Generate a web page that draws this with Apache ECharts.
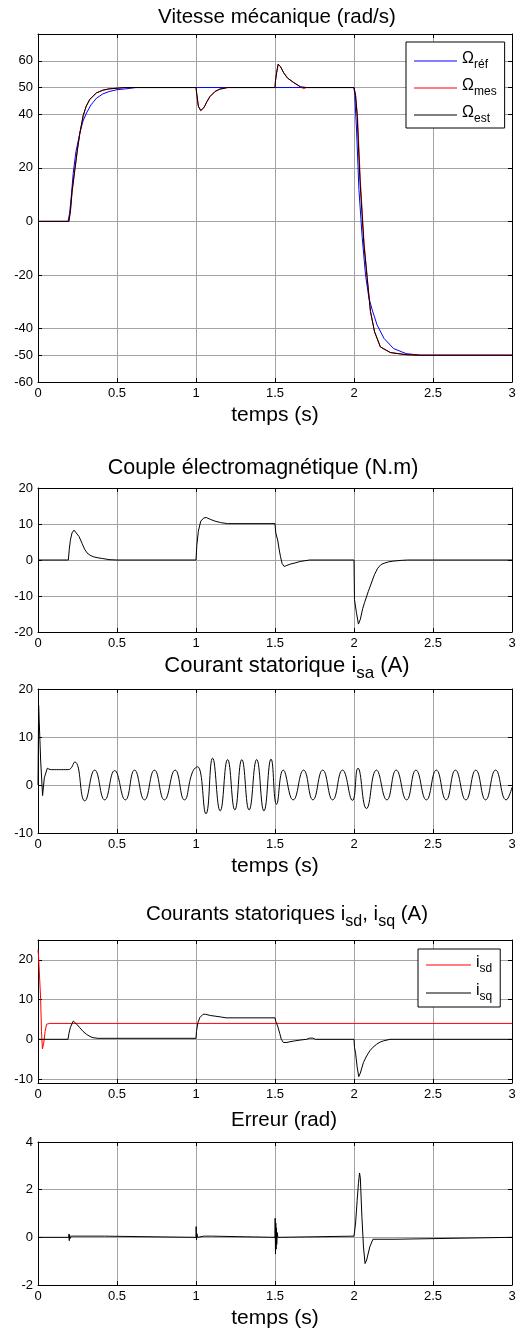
<!DOCTYPE html>
<html>
<head>
<meta charset="utf-8">
<script src="https://cdn.jsdelivr.net/npm/echarts@6/dist/echarts.min.js"></script>
<style>
html, body { margin: 0; padding: 0; background: #fff; }
#main { width: 528px; height: 1333px; }
</style>
</head>
<body>
<div id="main"></div>
<script>
var myChart = echarts.init(document.getElementById('main'));

// ticks
var timeTicks = [0, 0.5, 1, 1.5, 2, 2.5, 3];
var speedTicks = [-60, -50, -40, -20, 0, 20, 40, 50, 60];
var torqueTicks = [-20, -10, 0, 10, 20];
var isaTicks = [-10, 0, 10, 20];
var isdqTicks = [-10, 0, 10, 20];
var errTicks = [-2, 0, 2, 4];

// vitesse mécanique (rad/s)
var omegaRef = [[0, 0], [0.19, 0], [0.2, 3], [0.21, 9], [0.223, 18], [0.24, 26], [0.265, 33], [0.285, 37.5],
    [0.307, 40.5], [0.335, 43.5], [0.37, 46], [0.41, 47.6], [0.45, 48.5], [0.5, 49.2], [0.57, 49.6], [0.62, 50],
    [2.0, 50], [2.005, 47], [2.017, 33], [2.031, 12], [2.052, -6], [2.073, -20], [2.094, -28.5], [2.115, -33],
    [2.146, -38.7], [2.19, -43.7], [2.25, -47.5], [2.33, -49.4], [2.42, -50], [3, -50]];
var omegaMes = [[0, 0], [0.196, 0], [0.206, 4], [0.216, 11], [0.233, 19], [0.25, 27], [0.265, 33], [0.286, 39.5],
    [0.305, 43], [0.328, 45.6], [0.37, 48], [0.41, 49], [0.45, 49.5], [0.55, 50], [1.0, 50], [1.005, 47.5],
    [1.015, 43], [1.03, 41.4], [1.05, 42.5], [1.07, 44.8], [1.088, 46.6], [1.12, 48.5], [1.15, 49.4], [1.2, 50],
    [1.5, 50], [1.503, 52.5], [1.51, 55.5], [1.52, 58.7], [1.535, 57.8], [1.555, 55.5], [1.58, 53.5], [1.615, 52],
    [1.66, 50.3], [1.68, 49.6], [1.7, 50], [2.0, 50], [2.01, 47], [2.022, 39.3], [2.04, 15.4], [2.064, -8.5],
    [2.084, -21], [2.104, -33.6], [2.13, -41.2], [2.167, -46.9], [2.23, -49], [2.33, -49.8], [2.42, -50], [3, -50]];
var omegaEst = [[0, 0], [0.195, 0], [0.205, 4], [0.215, 11], [0.232, 19], [0.25, 27], [0.265, 33], [0.286, 39.5],
    [0.305, 43], [0.328, 45.6], [0.37, 48], [0.41, 49], [0.45, 49.5], [0.55, 50], [1.0, 50], [1.005, 47.5],
    [1.015, 43], [1.03, 41.4], [1.05, 42.5], [1.07, 44.8], [1.088, 46.6], [1.12, 48.5], [1.15, 49.4], [1.2, 50],
    [1.5, 50], [1.503, 52.5], [1.51, 55.5], [1.52, 58.7], [1.535, 57.8], [1.555, 55.5], [1.58, 53.5], [1.615, 52],
    [1.66, 50.3], [1.7, 50], [2.0, 50], [2.01, 47], [2.02, 39.3], [2.0375, 15.4], [2.0625, -8.5], [2.083, -21],
    [2.104, -33.6], [2.13, -41.2], [2.167, -46.9], [2.23, -49], [2.33, -49.8], [2.42, -50], [3, -50]];

// couple électromagnétique (N.m)
var torque = [[0, 0], [0.192, 0], [0.198, 3], [0.205, 5.5], [0.215, 7.5], [0.228, 8.3], [0.24, 8.2], [0.26, 6.5],
    [0.28, 4.5], [0.295, 3], [0.31, 2], [0.33, 1.3], [0.35, 0.9], [0.38, 0.6], [0.41, 0.4], [0.45, 0.1], [0.5, 0],
    [1.0, 0], [1.005, 4], [1.015, 8], [1.03, 10.8], [1.05, 11.7], [1.065, 11.8], [1.09, 11.3], [1.12, 10.8],
    [1.155, 10.4], [1.2, 10.1], [1.5, 10.1], [1.505, 7.5], [1.517, 5.5], [1.528, 2.5], [1.535, 0.9], [1.545, -1],
    [1.558, -1.8], [1.575, -1.5], [1.6, -1.1], [1.62, -0.9], [1.66, -0.4], [1.69, -0.2], [1.72, 0], [2.0, 0],
    [2.003, -11], [2.015, -14.5], [2.028, -17.8], [2.04, -16.5], [2.055, -13.5], [2.067, -11.8], [2.09, -8.8],
    [2.11, -6.4], [2.13, -4], [2.15, -2.3], [2.17, -1.3], [2.19, -0.9], [2.22, -0.5], [2.25, -0.3], [2.3, -0.1],
    [2.34, 0], [3, 0]];

// courant statorique isa (A)
var isaStartup = [[0, 0], [0.004, 16.6], [0.012, 16.6], [0.017, 5], [0.029, -2.2], [0.04, 1.5], [0.059, 3.5]];
var isaWave = [[0.059, 3.5], [0.086, 3.2], [0.191, 3.2], [0.233, 4.8], [0.296, -3.3], [0.359, 3.1], [0.422, -3.1],
    [0.485, 3.0], [0.553, -3.1], [0.611, 3.1], [0.674, -3.1], [0.737, 3.1], [0.8, -3.1], [0.868, 3.1],
    [0.926, -3.1], [0.979, 2.8], [1.01, 3.8], [1.063, -6.0], [1.105, 5.6], [1.153, -5.4], [1.2, 5.3],
    [1.246, -5.2], [1.29, 5.3], [1.336, -5.2], [1.384, 5.3], [1.43, -5.4], [1.475, 5.4], [1.51, -4.0],
    [1.552, 3.1], [1.615, -3.1], [1.681, 3.1], [1.74, -3.1], [1.802, 3.1], [1.865, -3.1], [1.927, 3.1],
    [1.99, -3.2], [2.025, 3.5], [2.079, -4.9], [2.142, 3.1], [2.208, -3.1], [2.267, 3.1], [2.333, -3.1],
    [2.392, 3.1], [2.458, -3.1], [2.521, 3.1], [2.583, -3.1], [2.642, 3.1], [2.708, -3.1], [2.771, 3.1],
    [2.833, -3.1], [2.896, 3.1], [2.963, -3.1], [3.0, -0.5]];

// courants isd, isq (A)
var isd = [[0, 22.5], [0.004, 20.5], [0.013, 20], [0.017, 10], [0.022, 2], [0.028, -2.4], [0.036, -1],
    [0.045, 2], [0.054, 3.8], [0.063, 4.3], [0.075, 4.0], [3, 4.0]];
var isq = [[0, 0], [0.19, 0], [0.196, 1.5], [0.205, 3], [0.223, 4.6], [0.24, 4], [0.265, 2.9], [0.285, 2],
    [0.307, 1.25], [0.33, 0.7], [0.349, 0.4], [0.38, 0.25], [1.0, 0.25], [1.003, 2], [1.012, 4.2], [1.025, 5.5],
    [1.045, 6.3], [1.06, 6.3], [1.09, 6], [1.126, 5.8], [1.16, 5.6], [1.19, 5.4], [1.5, 5.4], [1.505, 4.5],
    [1.517, 3.3], [1.53, 1.5], [1.54, 0], [1.553, -0.8], [1.575, -0.8], [1.595, -0.6], [1.625, -0.4],
    [1.658, -0.2], [1.7, 0], [1.72, 0.3], [1.74, 0.3], [1.755, 0], [2.0, 0], [2.003, -2], [2.01, -3.5],
    [2.02, -7], [2.03, -9.4], [2.04, -8.5], [2.06, -5.8], [2.08, -4.2], [2.1, -2.9], [2.12, -2], [2.143, -1.25],
    [2.165, -0.7], [2.186, -0.4], [2.228, 0], [3, 0]];

// erreur (rad)
var erreur = [[0, 0], [0.195, 0], [0.196, 0.14], [0.198, -0.14], [0.2, 0.1], [0.203, -0.05], [0.21, 0.05],
    [0.42, 0.05], [0.43, 0], [1.0, 0], [1.001, 0.45], [1.003, -0.1], [1.006, 0.15], [1.01, 0], [1.05, 0.05],
    [1.1, 0.05], [1.11, 0], [1.5, 0], [1.501, 0.8], [1.503, -0.7], [1.505, 0.6], [1.507, -0.5], [1.509, 0.4],
    [1.511, -0.3], [1.514, 0.2], [1.518, 0], [1.52, 0.05], [2.0, 0.05], [2.01, 0.6], [2.02, 1.55], [2.028, 2.25],
    [2.035, 2.7], [2.04, 2.5], [2.05, 0.86], [2.06, -0.4], [2.07, -1.1], [2.08, -0.95], [2.1, -0.4], [2.12, -0.08],
    [2.26, -0.08], [2.27, 0], [3, 0]];

var font = "'Liberation Sans', Arial, sans-serif";
var gridColor = '#a3a3a3';

var panels = [
    { top: 34, height: 348, min: -60, max: 70, ticks: speedTicks, xname: 'temps (s)' },
    { top: 488, height: 144, min: -20, max: 20, ticks: torqueTicks, xname: '' },
    { top: 689, height: 144, min: -10, max: 20, ticks: isaTicks, xname: 'temps (s)' },
    { top: 940, height: 143, min: -11, max: 25, ticks: isdqTicks, xname: '' },
    { top: 1142, height: 143, min: -2, max: 4, ticks: errTicks, xname: 'temps (s)' }
];

var grids = [], xAxes = [], yAxes = [];
panels.forEach(function (p, i) {
    grids.push({ left: 38, right: 16, top: p.top, height: p.height, show: false });
    var line = { show: true, onZero: false, lineStyle: { color: '#000', width: 1 } };
    xAxes.push({
        gridIndex: i, type: 'value', min: 0, max: 3, position: 'bottom',
        axisLine: line,
        axisTick: { show: true, inside: true, length: 4, customValues: timeTicks, lineStyle: { color: '#000' } },
        axisLabel: { show: true, customValues: timeTicks, color: '#000', fontSize: 13, margin: 5 },
        splitLine: { show: true, lineStyle: { color: gridColor } },
        name: p.xname, nameLocation: 'middle', nameGap: 23,
        nameTextStyle: { fontSize: 21, color: '#000' }
    });
    xAxes.push({
        gridIndex: i, type: 'value', min: 0, max: 3, position: 'top',
        axisLine: line,
        axisTick: { show: true, inside: true, length: 4, customValues: timeTicks, lineStyle: { color: '#000' } },
        axisLabel: { show: false }, splitLine: { show: false }
    });
    yAxes.push({
        gridIndex: i, type: 'value', min: p.min, max: p.max, position: 'left',
        axisLine: line,
        axisTick: { show: true, inside: true, length: 4, customValues: p.ticks, lineStyle: { color: '#000' } },
        axisLabel: { show: true, customValues: p.ticks, color: '#000', fontSize: 13, margin: 5 },
        splitLine: { show: true, lineStyle: { color: gridColor } }
    });
    yAxes.push({
        gridIndex: i, type: 'value', min: p.min, max: p.max, position: 'right',
        axisLine: line,
        axisTick: { show: true, inside: true, length: 4, customValues: p.ticks, lineStyle: { color: '#000' } },
        axisLabel: { show: false }, splitLine: { show: false }
    });
});

function line(name, data, panel, color, smooth) {
    return {
        name: name, type: 'line', data: data,
        xAxisIndex: panel * 2, yAxisIndex: panel * 2,
        symbol: 'none', showSymbol: false, smooth: smooth || false,
        lineStyle: { color: color, width: 1 }, itemStyle: { color: color },
        animation: false
    };
}

function subTitle(size, subSize) {
    return {
        fontSize: size, fontWeight: 'normal', color: '#000',
        rich: {
            n: { fontSize: size, color: '#000', verticalAlign: 'bottom', padding: [0, 0, 5, 0] },
            s: { fontSize: subSize, color: '#000', verticalAlign: 'bottom' }
        }
    };
}
var legRich = {
    a: { fontSize: 16, color: '#000', verticalAlign: 'bottom', padding: [0, 0, 4, 0] },
    b: { fontSize: 12, color: '#000', verticalAlign: 'bottom' }
};

var option = {
    backgroundColor: '#fff',
    textStyle: { fontFamily: font },
    animation: false,
    title: [
        { text: 'Vitesse mécanique (rad/s)', left: 272, textAlign: 'center', top: 2, textStyle: subTitle(20.5, 16) },
        { text: 'Couple électromagnétique (N.m)', left: 258, textAlign: 'center', top: 452, textStyle: subTitle(21.5, 16) },
        { text: '{n|Courant statorique i}{s|sa}{n| (A)}', left: 282, textAlign: 'center', top: 650, textStyle: subTitle(22, 17) },
        { text: '{n|Courants statoriques i}{s|sd}{n|, i}{s|sq}{n| (A)}', left: 282, textAlign: 'center', top: 899, textStyle: subTitle(20.5, 16) },
        { text: 'Erreur (rad)', left: 279, textAlign: 'center', top: 1105, textStyle: subTitle(20.5, 16) }
    ],
    legend: [{
        data: ['Ωréf', 'Ωmes', 'Ωest'], orient: 'vertical', left: 406, top: 42,
        padding: [9, 8, 3, 8], itemGap: 7, itemWidth: 43, itemHeight: 1, icon: 'rect',
        backgroundColor: '#fff', borderColor: '#000', borderWidth: 1, borderRadius: 0,
        selectedMode: false,
        formatter: function (name) { return '{a|Ω}{b|' + name.slice(1) + '}'; },
        textStyle: { rich: legRich }
    }, {
        data: ['isd', 'isq'], orient: 'vertical', left: 418, top: 949,
        padding: [6, 8, 4, 8], itemGap: 8, itemWidth: 45, itemHeight: 1, icon: 'rect',
        backgroundColor: '#fff', borderColor: '#000', borderWidth: 1, borderRadius: 0,
        selectedMode: false,
        formatter: function (name) { return '{a|i}{b|' + name.slice(1) + '}'; },
        textStyle: { rich: legRich }
    }],
    grid: grids,
    xAxis: xAxes,
    yAxis: yAxes,
    series: [
        line('Ωréf', omegaRef, 0, '#0000ff'),
        line('Ωmes', omegaMes, 0, '#ff0000'),
        line('Ωest', omegaEst, 0, '#000000'),
        line('Couple', torque, 1, '#000000'),
        line('isa0', isaStartup, 2, '#000000'),
        line('isa', isaWave, 2, '#000000', 0.5),
        line('isd', isd, 3, '#ff0000'),
        line('isq', isq, 3, '#000000'),
        line('erreur', erreur, 4, '#000000')
    ]
};

myChart.setOption(option);
</script>
</body>
</html>
